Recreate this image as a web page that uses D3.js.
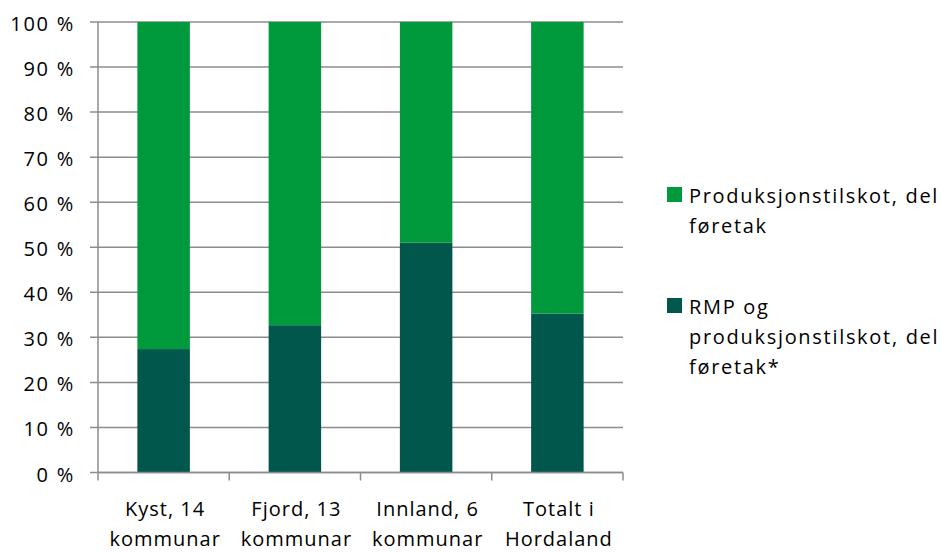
<!DOCTYPE html>
<html><head><meta charset="utf-8">
<script src="https://cdn.jsdelivr.net/npm/d3@7"></script>
<style>body{margin:0;background:#fff}svg{display:block}text{font-family:"Open Sans",sans-serif;fill:#000}</style>
</head><body><svg id="c" width="941" height="553"></svg>
<script>
const categories = [["Kyst, 14","kommunar"],["Fjord, 13","kommunar"],["Innland, 6","kommunar"],["Totalt i","Hordaland"]];
const rmpShare = [27.4, 32.7, 51.0, 35.3];
const prodShare = [72.6, 67.3, 49.0, 64.7];
const yTicks = [0,10,20,30,40,50,60,70,80,90,100];
const seriesNames = [["Produksjonstilskot, del","føretak"],["RMP og","produksjonstilskot, del","føretak*"]];
const colors = ["#009a3d","#02574c"];

const svg = d3.select("#c");
const m = {l:98, r:623, t:22, b:472.5};
const x = d3.scaleBand().domain(d3.range(categories.length)).range([m.l,m.r]).paddingInner(0.6).paddingOuter(0.3);
const xb = d3.scaleBand().domain(d3.range(categories.length)).range([m.l,m.r]);
const y = d3.scaleLinear().domain([0,100]).range([m.b,m.t]);
const fs = 20;

svg.append("g").selectAll("line").data(yTicks).join("line")
  .attr("x1",m.l-8).attr("x2",m.r).attr("y1",d=>y(d)).attr("y2",d=>y(d))
  .attr("stroke","#8c8c8c").attr("stroke-width",1.5);
svg.append("g").selectAll("text").data(yTicks).join("text")
  .attr("x",75).attr("y",d=>y(d)).attr("dy","0.45em").attr("text-anchor","end")
  .attr("font-size",fs).attr("letter-spacing","1.75px").text(d=>d+" %");

const g = svg.append("g");
g.selectAll("rect.rmp").data(rmpShare).join("rect").attr("class","rmp")
  .attr("x",(d,i)=>x(i)).attr("width",x.bandwidth())
  .attr("y",d=>y(d)).attr("height",d=>y(0)-y(d)).attr("fill",colors[1]);
g.selectAll("rect.prod").data(prodShare).join("rect").attr("class","prod")
  .attr("x",(d,i)=>x(i)).attr("width",x.bandwidth())
  .attr("y",(d,i)=>y(rmpShare[i]+d)).attr("height",(d,i)=>y(rmpShare[i])-y(rmpShare[i]+d)).attr("fill",colors[0]);

svg.append("line").attr("x1",m.l).attr("x2",m.l).attr("y1",m.t).attr("y2",m.b).attr("stroke","#8c8c8c").attr("stroke-width",1.5);
svg.append("line").attr("x1",m.l).attr("x2",m.r).attr("y1",m.b).attr("y2",m.b).attr("stroke","#8c8c8c").attr("stroke-width",1.5);
const xt = d3.range(categories.length+1).map(i=> i<categories.length ? xb(i) : m.r);
svg.append("g").selectAll("line").data(xt).join("line")
  .attr("x1",d=>d).attr("x2",d=>d).attr("y1",m.b).attr("y2",m.b+8).attr("stroke","#8c8c8c").attr("stroke-width",1.5);

svg.append("g").selectAll("text").data(categories).join("text")
  .attr("x",(d,i)=>xb(i)+xb.bandwidth()/2+1.5).attr("y",516).attr("text-anchor","middle").attr("font-size",fs).attr("letter-spacing","1px")
  .each(function(d){ const t=d3.select(this); d.forEach((s,k)=>t.append("tspan").attr("x",t.attr("x")).attr("dy",k?30:0).text(s)); });

const legY = [187, 298];
seriesNames.forEach((lines,i)=>{
  svg.append("rect").attr("x",667).attr("y",legY[i]).attr("width",15).attr("height",15).attr("fill",colors[i]);
  const t = svg.append("text").attr("x",689).attr("y",legY[i]+16).attr("font-size",fs).attr("letter-spacing","1.7px");
  lines.forEach((s,k)=>t.append("tspan").attr("x",689).attr("dy",k?30:0).text(s));
});
</script></body></html>
